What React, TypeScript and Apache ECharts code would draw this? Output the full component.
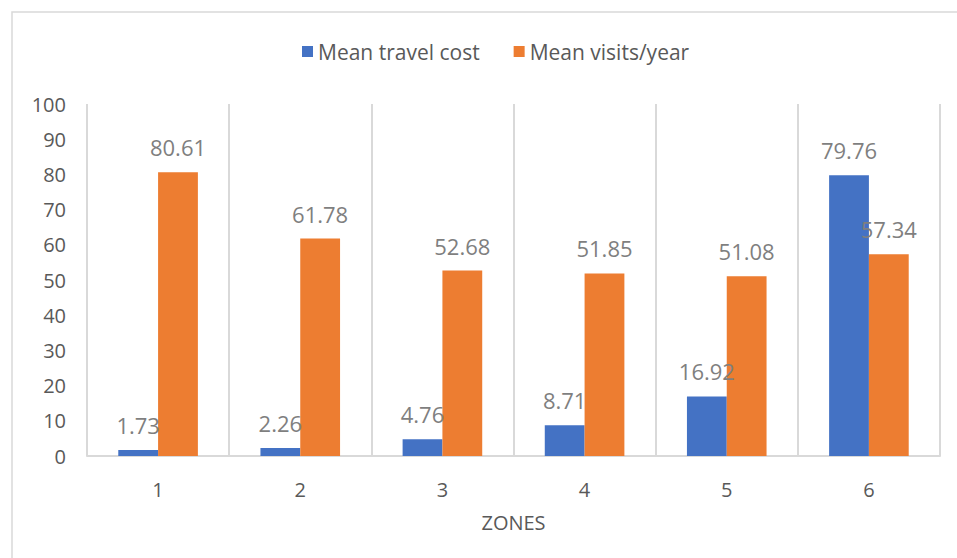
import React, { useEffect, useRef } from "react";
import * as echarts from "echarts";

const zones = ["1", "2", "3", "4", "5", "6"];
const meanTravelCost = [1.73, 2.26, 4.76, 8.71, 16.92, 79.76];
const meanVisitsPerYear = [80.61, 61.78, 52.68, 51.85, 51.08, 57.34];
const seriesNames = ["Mean travel cost", "Mean visits/year"];
const axisTitle = "ZONES";

const FONT = "'Open Sans', 'Noto Sans', sans-serif";
const BLUE = "#4472C4";
const ORANGE = "#ED7D31";
const GRID_GRAY = "#d9d9d9";

export default function App() {
  const ref = useRef<HTMLDivElement>(null);

  useEffect(() => {
    if (!ref.current) return;
    const chart = echarts.init(ref.current, null, { renderer: "svg" });

    const valueLabel = {
      show: true,
      position: "top" as const,
      distance: 14,
      color: "#7f7f7f",
      fontSize: 22,
      fontFamily: FONT,
    };

    chart.setOption({
      animation: false,
      backgroundColor: "#ffffff",
      graphic: [
        {
          type: "rect",
          shape: { x: 12, y: 12, width: 960, height: 560 },
          style: { fill: "none", stroke: GRID_GRAY, lineWidth: 1.5 },
          silent: true,
        },
      ],
      legend: {
        top: 36,
        left: 297,
        itemWidth: 11,
        itemHeight: 11,
        itemGap: 34,
        icon: "rect",
        textStyle: { color: "#595959", fontSize: 21, fontFamily: FONT },
        data: seriesNames,
      },
      grid: { left: 87, right: 17, top: 104, bottom: 102 },
      xAxis: {
        type: "category",
        data: zones,
        name: axisTitle,
        nameLocation: "middle",
        nameGap: 56,
        nameTextStyle: { color: "#595959", fontSize: 20, fontFamily: FONT },
        axisLine: { show: true, lineStyle: { color: GRID_GRAY, width: 2 } },
        axisTick: { show: false },
        axisLabel: {
          color: "#595959",
          fontSize: 20,
          fontFamily: FONT,
          margin: 23,
        },
        splitLine: { show: true, lineStyle: { color: GRID_GRAY, width: 2 } },
      },
      yAxis: {
        type: "value",
        min: 0,
        max: 100,
        interval: 10,
        axisLine: { show: false },
        axisTick: { show: false },
        splitLine: { show: false },
        axisLabel: {
          color: "#595959",
          fontSize: 20,
          fontFamily: FONT,
          margin: 21,
        },
      },
      series: [
        {
          name: seriesNames[0],
          type: "bar",
          data: meanTravelCost,
          itemStyle: { color: BLUE },
          barGap: "0%",
          barCategoryGap: "44%",
          label: valueLabel,
        },
        {
          name: seriesNames[1],
          type: "bar",
          data: meanVisitsPerYear,
          itemStyle: { color: ORANGE },
          barGap: "0%",
          barCategoryGap: "44%",
          label: valueLabel,
        },
      ],
    });

    return () => chart.dispose();
  }, []);

  return (
    <div
      ref={ref}
      style={{ position: "fixed", left: 0, top: 0, width: 957, height: 558 }}
    />
  );
}
